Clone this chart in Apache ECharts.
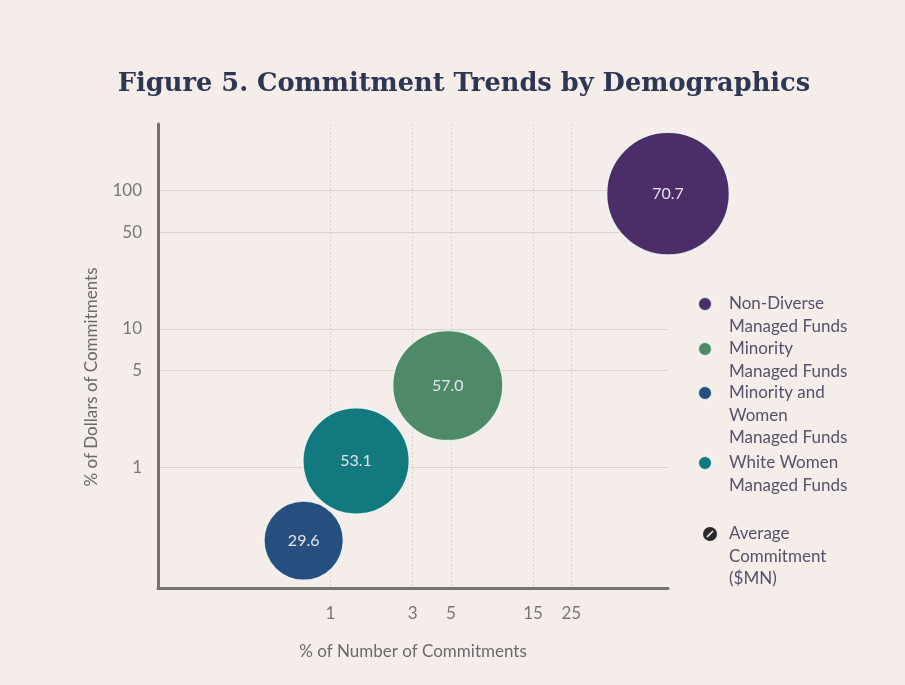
<!DOCTYPE html>
<html>
<head>
<meta charset="utf-8">
<script src="https://cdn.jsdelivr.net/npm/echarts@6/dist/echarts.min.js"></script>
<style>
  html, body { margin: 0; padding: 0; background: #fbf9f8; }
  #chart { width: 905px; height: 685px; }
</style>
</head>
<body>
<div id="chart"></div>
<script>
// Share of number of commitments (%), share of dollars (%), average commitment ($MN)
const groups = ['Non-Diverse Managed Funds', 'Minority Managed Funds', 'White Women Managed Funds', 'Minority and Women Managed Funds'];
const pctNumber = [91, 4.8, 1.41, 0.70];
const pctDollars = [95, 3.9, 1.11, 0.295];
const avgCommitment = [70.7, 57.0, 53.1, 29.6];
const colors = ['#4b2e68', '#4e8a67', '#127a7f', '#264f80'];
const legendLabels = {
  'Non-Diverse Managed Funds': ['Non-Diverse', 'Managed Funds'],
  'Minority Managed Funds': ['Minority', 'Managed Funds'],
  'Minority and Women Managed Funds': ['Minority and', 'Women', 'Managed Funds'],
  'White Women Managed Funds': ['White Women', 'Managed Funds']
};
const legendOrder = ['Non-Diverse Managed Funds', 'Minority Managed Funds', 'Minority and Women Managed Funds', 'White Women Managed Funds'];
const legendIconY = [304, 349, 393, 463];
const xTicks = [1, 3, 5, 15, 25];
const yTicks = [1, 5, 10, 50, 100];

const FONT = 'Lato';
const LINE_H = 22.5;
const LEGEND_SIZE = 17;
const AXIS_SIZE = 17;

const chart = echarts.init(document.getElementById('chart'));

// One legend block per group so each icon sits on the first line of its label
const legends = legendOrder.map((name, i) => {
  const lines = legendLabels[name];
  const pad = new Array(lines.length - 1).fill('');
  const all = pad.concat(lines);
  return {
    orient: 'vertical',
    left: 697,
    top: legendIconY[i] - all.length * LINE_H / 2,
    padding: 0,
    itemWidth: 26,
    itemHeight: 14,
    icon: 'circle',
    data: [name],
    formatter: () => all.join('\n'),
    textStyle: { fontFamily: FONT, fontSize: LEGEND_SIZE, color: '#55526a', lineHeight: LINE_H, padding: [0, 0, 0, 6] }
  };
});

chart.setOption({
  backgroundColor: '#f4ede9',
  animation: false,
  title: {
    text: 'Figure 5. Commitment Trends by Demographics',
    left: 459,
    textAlign: 'center',
    top: 66,
    textStyle: { fontFamily: 'DejaVu Serif', fontWeight: 'bold', fontSize: 25.7, color: '#2d3652' }
  },
  legend: legends,
  graphic: [
    {
      type: 'group',
      left: 703,
      top: 527,
      children: [
        { type: 'circle', shape: { cx: 7, cy: 7, r: 7 }, style: { fill: '#2a2a2e' } },
        { type: 'line', shape: { x1: 4, y1: 10, x2: 10, y2: 4 }, style: { stroke: '#f4ede9', lineWidth: 1.7 } }
      ]
    },
    {
      type: 'text',
      left: 729,
      top: 534 - LINE_H / 2,
      style: {
        text: 'Average\nCommitment\n($MN)',
        fontFamily: FONT, fontSize: LEGEND_SIZE, fill: '#55526a', lineHeight: LINE_H
      }
    }
  ],
  grid: { left: 158, right: 237, top: 124, bottom: 97, containLabel: false },
  xAxis: {
    type: 'log',
    logBase: 10,
    min: 0.1,
    max: 91,
    name: '% of Number of Commitments',
    nameLocation: 'middle',
    nameGap: 55,
    nameTextStyle: { fontFamily: FONT, fontSize: AXIS_SIZE, color: '#6a6a6a' },
    axisLine: { show: true, onZero: false, lineStyle: { color: '#767270', width: 3 } },
    axisTick: { show: false, customValues: xTicks },
    axisLabel: { customValues: xTicks, fontFamily: FONT, fontSize: AXIS_SIZE, color: '#777', margin: 17 },
    splitLine: { show: true, lineStyle: { color: '#d9d0cc', width: 1, type: [2, 2] } },
    minorTick: { show: false },
    minorSplitLine: { show: false }
  },
  yAxis: {
    type: 'log',
    logBase: 10,
    min: 0.134,
    max: 303,
    name: '% of Dollars of Commitments',
    nameLocation: 'middle',
    nameGap: 58,
    nameTextStyle: { fontFamily: FONT, fontSize: AXIS_SIZE, color: '#6a6a6a', padding: [0, 42, 0, 0] },
    axisLine: { show: true, onZero: false, lineStyle: { color: '#767270', width: 3 } },
    axisTick: { show: false, customValues: yTicks },
    axisLabel: { customValues: yTicks, fontFamily: FONT, fontSize: AXIS_SIZE, color: '#777', margin: 16 },
    splitLine: { show: true, lineStyle: { color: '#dcd3cf', width: 1.2 } }
  },
  series: groups.map((name, i) => ({
    name,
    type: 'scatter',
    symbol: 'circle',
    data: [[pctNumber[i], pctDollars[i], avgCommitment[i]]],
    symbolSize: d => 14.6 * Math.sqrt(d[2]),
    itemStyle: { color: colors[i], opacity: 1, borderColor: 'rgba(240,248,246,0.85)', borderWidth: 1.5 },
    label: {
      show: true,
      position: 'inside',
      formatter: p => p.value[2].toFixed(1),
      fontFamily: FONT,
      fontSize: 16,
      color: '#e6e3ee'
    },
    emphasis: { scale: false }
  }))
});
</script>
</body>
</html>
